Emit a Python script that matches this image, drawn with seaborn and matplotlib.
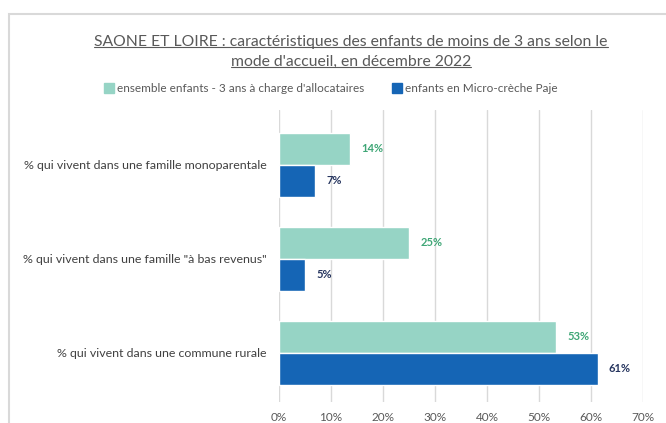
import matplotlib
matplotlib.use("Agg")
import matplotlib.pyplot as plt
import seaborn as sns
import pandas as pd
import numpy as np
from matplotlib.lines import Line2D
from matplotlib.patches import Rectangle
from matplotlib.ticker import PercentFormatter

# Data
categories = [
    "% qui vivent dans une famille monoparentale",
    "% qui vivent dans une famille \"à bas revenus\"",
    "% qui vivent dans une commune rurale",
]
series = ["ensemble enfants - 3 ans à charge d'allocataires", "enfants en Micro-crèche Paje"]
ensemble = [0.137, 0.25, 0.533]
micro = [0.069, 0.05, 0.612]
x_ticks = [0.0, 0.1, 0.2, 0.3, 0.4, 0.5, 0.6, 0.7]

df = pd.DataFrame({
    "categorie": categories * 2,
    "serie": [series[0]] * len(categories) + [series[1]] * len(categories),
    "valeur": ensemble + micro,
})

bar_colors = ["#96D4C5", "#1565B5"]
label_colors = ["#3FA676", "#26355F"]
text_gray = "#595959"
grid_gray = "#D9D9D9"

sns.set_style("white")
plt.rcParams["font.family"] = ["Lato", "DejaVu Sans"]

fig = plt.figure(figsize=(6.66, 4.23), dpi=100)
ax = fig.add_axes([0.419, 0.05, 0.547, 0.69])

sns.barplot(data=df, y="categorie", x="valeur", hue="serie", orient="h",
            palette=bar_colors, saturation=1, width=0.68, legend=False, ax=ax)

ax.set_xlim(0, 0.7)
ax.set_ylim(2.52, -0.585)
ax.set_xticks(x_ticks)
ax.xaxis.set_major_formatter(PercentFormatter(1.0, decimals=0))
ax.grid(axis="x", color=grid_gray, lw=1)
ax.grid(axis="y", visible=False)
ax.set_axisbelow(True)
for s in ax.spines.values():
    s.set_visible(False)
ax.set_xlabel("")
ax.set_ylabel("")
ax.tick_params(axis="x", length=0, pad=7, labelsize=8.5, labelcolor=text_gray)
ax.tick_params(axis="y", length=0, pad=9, labelsize=8.9, labelcolor="#404040")

# value labels
for container, col in zip(ax.containers, label_colors):
    labels = [f"{bar.get_width() * 100:.0f}%" for bar in container]
    ax.bar_label(container, labels=labels, padding=8, fontsize=8,
                 fontweight="bold", color=col)

# title, two underlined lines
t1 = fig.text(0.527, 0.9, "SAONE ET LOIRE : caractéristiques des enfants de moins de 3 ans selon le",
              ha="center", va="center", fontsize=11.3, color=text_gray)
t2 = fig.text(0.527, 0.853, "mode d'accueil, en décembre 2022",
              ha="center", va="center", fontsize=11.3, color=text_gray)

# legend
handles = [Line2D([], [], marker="s", linestyle="", markersize=6.5,
                  markerfacecolor=c, markeredgecolor=c) for c in bar_colors]
fig.legend(handles, series, loc="center", bbox_to_anchor=(0.497, 0.79), ncol=2,
           frameon=False, fontsize=8.5, labelcolor=text_gray, handletextpad=0.3,
           columnspacing=2.3, handlelength=0.8)

# chart frame
fig.add_artist(Rectangle((9 / 666, -0.1), 1.0, 1 - 14 / 423 + 0.1,
                         transform=fig.transFigure, fill=False,
                         edgecolor=grid_gray, lw=1.5))

# underline title lines
fig.canvas.draw()
renderer = fig.canvas.get_renderer()
inv = fig.transFigure.inverted()
for t in (t1, t2):
    bb = t.get_window_extent(renderer).transformed(inv)
    y = bb.y0 + 2.5 / 423
    fig.add_artist(Line2D([bb.x0, bb.x1], [y, y], transform=fig.transFigure,
                          color=text_gray, lw=0.8))

fig.savefig("out.png", dpi=100)
